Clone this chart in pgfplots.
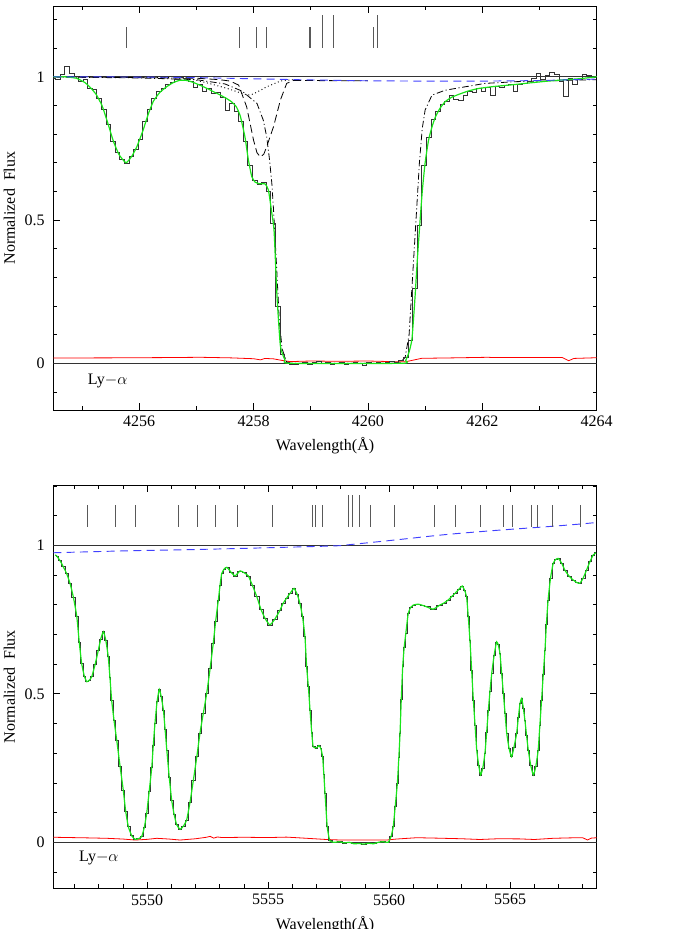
\documentclass[border=0pt]{standalone}
\usepackage{fontspec}
\setmainfont{Liberation Serif}
\usepackage{pgfplots}
\usepackage{pgfplotstable}
\pgfplotsset{compat=1.18}

\definecolor{fitgreen}{rgb}{0.1,0.9,0.1}
\definecolor{contblue}{rgb}{0.25,0.25,1}
\definecolor{tickgray}{rgb}{0.35,0.35,0.35}

% ---------- top panel (4254.5 - 4264) ----------
\pgfplotstableread{
x y
4254.50 0.995
4254.58 0.992
4254.66 1.008
4254.74 1.035
4254.82 1.012
4254.90 1.002
4254.98 0.985
4255.06 0.990
4255.14 0.958
4255.22 0.955
4255.30 0.925
4255.38 0.885
4255.46 0.835
4255.54 0.775
4255.62 0.735
4255.70 0.712
4255.78 0.698
4255.86 0.722
4255.94 0.748
4256.02 0.780
4256.10 0.845
4256.18 0.885
4256.26 0.925
4256.34 0.948
4256.42 0.960
4256.50 0.975
4256.58 0.982
4256.66 0.990
4256.74 0.998
4256.82 0.995
4256.90 0.985
4256.98 0.962
4257.06 0.975
4257.14 0.948
4257.22 0.958
4257.30 0.942
4257.38 0.945
4257.46 0.928
4257.54 0.884
4257.62 0.908
4257.70 0.880
4257.78 0.845
4257.86 0.775
4257.94 0.690
4258.02 0.640
4258.10 0.625
4258.18 0.632
4258.26 0.600
4258.34 0.490
4258.42 0.200
4258.50 0.030
4258.58 0.005
4258.66 -0.005
4258.74 -0.003
4258.82 0.000
4258.90 0.004
4258.98 -0.002
4259.06 0.003
4259.14 0.006
4259.22 -0.001
4259.30 0.002
4259.38 -0.004
4259.46 0.001
4259.54 0.003
4259.62 -0.002
4259.70 0.000
4259.78 0.004
4259.86 -0.001
4259.94 -0.006
4260.02 0.002
4260.10 0.000
4260.18 0.003
4260.26 0.001
4260.34 0.005
4260.42 0.008
4260.50 0.003
4260.58 0.010
4260.66 0.020
4260.74 0.080
4260.82 0.260
4260.90 0.480
4260.98 0.690
4261.06 0.790
4261.14 0.850
4261.22 0.880
4261.30 0.905
4261.38 0.915
4261.46 0.935
4261.54 0.920
4261.62 0.918
4261.70 0.935
4261.78 0.950
4261.86 0.945
4261.94 0.958
4262.02 0.950
4262.10 0.962
4262.18 0.935
4262.26 0.968
4262.34 0.962
4262.42 0.970
4262.50 0.972
4262.58 0.948
4262.66 0.975
4262.74 0.978
4262.82 0.985
4262.90 0.995
4262.98 1.012
4263.06 0.990
4263.14 1.005
4263.22 1.015
4263.30 1.010
4263.38 0.985
4263.46 0.930
4263.54 0.995
4263.62 0.975
4263.70 0.990
4263.78 1.010
4263.86 1.005
4263.94 0.998
4264.00 1.000
}\topdata

\pgfplotstableread{
x y
4254.50 1.000
4254.70 1.000
4254.90 0.995
4255.05 0.980
4255.15 0.962
4255.25 0.938
4255.35 0.900
4255.45 0.840
4255.55 0.775
4255.65 0.728
4255.77 0.700
4255.87 0.722
4255.96 0.756
4256.07 0.814
4256.16 0.870
4256.25 0.915
4256.36 0.945
4256.48 0.965
4256.60 0.980
4256.72 0.988
4256.84 0.987
4256.95 0.980
4257.07 0.970
4257.18 0.960
4257.30 0.948
4257.42 0.936
4257.53 0.924
4257.62 0.912
4257.70 0.895
4257.77 0.862
4257.85 0.790
4257.91 0.710
4257.97 0.651
4258.03 0.632
4258.10 0.627
4258.20 0.626
4258.26 0.605
4258.32 0.524
4258.36 0.460
4258.41 0.235
4258.47 0.060
4258.55 0.012
4258.64 0.000
4260.60 0.000
4260.66 0.010
4260.72 0.040
4260.77 0.085
4260.82 0.220
4260.86 0.350
4260.90 0.465
4260.95 0.600
4261.00 0.700
4261.06 0.779
4261.12 0.825
4261.18 0.860
4261.26 0.890
4261.35 0.913
4261.46 0.928
4261.58 0.938
4261.75 0.950
4261.93 0.959
4262.20 0.966
4262.52 0.972
4262.80 0.978
4263.10 0.984
4263.40 0.989
4263.68 0.993
4263.92 0.998
4264.00 1.000
}\topfit

\pgfplotstableread{
x y
4254.50 1.000
4256.00 0.999
4257.00 0.997
4258.00 0.993
4259.00 0.989
4260.00 0.986
4261.00 0.985
4262.00 0.985
4263.00 0.987
4264.00 0.992
}\topcont

\pgfplotstableread{
x y
4254.50 1.000
4257.00 0.995
4257.40 0.990
4257.59 0.985
4257.74 0.971
4257.88 0.895
4258.00 0.779
4258.06 0.735
4258.12 0.720
4258.18 0.730
4258.23 0.756
4258.35 0.826
4258.47 0.919
4258.58 0.977
4258.70 0.987
4260.00 0.986
}\topdash

\pgfplotstableread{
x y
4256.00 0.998
4256.83 0.996
4257.18 0.979
4257.53 0.960
4257.77 0.944
4257.90 0.936
4258.00 0.940
4258.23 0.965
4258.47 0.985
4258.70 0.990
}\topdot

\pgfplotstableread{
x y
4254.50 0.999
4256.00 0.996
4257.00 0.990
4257.50 0.975
4257.80 0.950
4258.06 0.907
4258.17 0.849
4258.23 0.791
4258.28 0.710
4258.32 0.628
4258.35 0.535
4258.40 0.350
4258.45 0.150
4258.50 0.050
4258.58 0.005
4258.65 0.000
4260.55 0.000
4260.65 0.020
4260.72 0.100
4260.78 0.300
4260.83 0.465
4260.90 0.700
4260.95 0.820
4261.00 0.884
4261.12 0.936
4261.35 0.953
4261.64 0.963
4262.05 0.977
4262.60 0.983
4263.20 0.986
4264.00 0.990
}\topdashdot

\pgfplotstableread{
x y
4254.50 0.0185
4255.50 0.0190
4256.50 0.0200
4257.07 0.0210
4257.60 0.0190
4258.00 0.0160
4258.12 0.0120
4258.20 0.0170
4258.35 0.0155
4258.50 0.0100
4258.64 0.0060
4259.00 0.0080
4259.50 0.0070
4260.00 0.0080
4260.40 0.0060
4260.65 0.0050
4260.94 0.0174
4261.50 0.0190
4262.10 0.0210
4262.20 0.0200
4263.00 0.0200
4263.40 0.0200
4263.51 0.0090
4263.60 0.0170
4264.00 0.0195
}\toperr

% ---------- bottom panel (5546.1 - 5568.6) ----------
\pgfplotstableread{
x y
5546.20 0.968
5546.26 0.964
5546.40 0.948
5546.53 0.928
5546.67 0.905
5546.81 0.872
5546.95 0.825
5547.09 0.760
5547.19 0.675
5547.29 0.603
5547.40 0.560
5547.50 0.541
5547.60 0.545
5547.71 0.558
5547.85 0.600
5547.98 0.647
5548.08 0.685
5548.19 0.709
5548.29 0.680
5548.39 0.625
5548.46 0.555
5548.53 0.479
5548.63 0.410
5548.74 0.344
5548.88 0.255
5549.01 0.176
5549.11 0.105
5549.22 0.053
5549.36 0.022
5549.50 0.010
5549.63 0.012
5549.77 0.019
5549.88 0.050
5549.98 0.098
5550.08 0.170
5550.19 0.254
5550.25 0.325
5550.32 0.400
5550.41 0.475
5550.50 0.515
5550.58 0.490
5550.67 0.445
5550.74 0.380
5550.81 0.311
5550.91 0.220
5551.01 0.143
5551.11 0.095
5551.22 0.059
5551.36 0.044
5551.50 0.055
5551.63 0.075
5551.77 0.135
5551.91 0.210
5552.05 0.288
5552.18 0.367
5552.32 0.435
5552.46 0.502
5552.60 0.585
5552.73 0.670
5552.83 0.745
5552.94 0.816
5553.01 0.865
5553.08 0.905
5553.18 0.920
5553.29 0.926
5553.46 0.910
5553.63 0.897
5553.84 0.914
5554.00 0.908
5554.18 0.897
5554.35 0.865
5554.53 0.827
5554.70 0.785
5554.87 0.754
5555.07 0.732
5555.28 0.752
5555.49 0.782
5555.62 0.805
5555.76 0.822
5555.92 0.840
5556.07 0.855
5556.20 0.835
5556.31 0.805
5556.42 0.760
5556.52 0.692
5556.59 0.591
5556.66 0.525
5556.73 0.445
5556.80 0.370
5556.86 0.322
5557.00 0.318
5557.10 0.326
5557.18 0.315
5557.25 0.288
5557.30 0.230
5557.35 0.165
5557.44 0.053
5557.55 0.005
5557.75 0.000
5557.95 0.002
5558.15 -0.002
5558.35 0.000
5558.55 -0.005
5558.75 -0.004
5558.95 -0.006
5559.15 -0.003
5559.35 -0.005
5559.55 0.000
5559.75 0.002
5559.96 0.000
5560.08 0.020
5560.17 0.053
5560.25 0.120
5560.34 0.199
5560.40 0.285
5560.45 0.367
5560.50 0.480
5560.56 0.591
5560.62 0.655
5560.69 0.704
5560.79 0.771
5560.90 0.792
5561.00 0.799
5561.20 0.802
5561.38 0.798
5561.55 0.793
5561.82 0.785
5562.10 0.799
5562.27 0.806
5562.44 0.816
5562.58 0.827
5562.72 0.838
5562.88 0.852
5563.02 0.863
5563.11 0.850
5563.20 0.827
5563.27 0.760
5563.34 0.680
5563.41 0.580
5563.48 0.479
5563.55 0.395
5563.62 0.311
5563.70 0.260
5563.78 0.227
5563.87 0.250
5563.96 0.300
5564.03 0.370
5564.10 0.445
5564.17 0.510
5564.24 0.569
5564.34 0.630
5564.44 0.675
5564.51 0.665
5564.58 0.636
5564.65 0.570
5564.72 0.502
5564.79 0.435
5564.86 0.367
5564.96 0.315
5565.06 0.288
5565.16 0.320
5565.27 0.367
5565.34 0.420
5565.41 0.468
5565.48 0.485
5565.55 0.450
5565.61 0.412
5565.68 0.360
5565.75 0.311
5565.85 0.260
5565.96 0.227
5566.06 0.255
5566.16 0.311
5566.23 0.395
5566.30 0.479
5566.37 0.565
5566.44 0.647
5566.50 0.735
5566.57 0.816
5566.67 0.890
5566.78 0.939
5566.88 0.952
5566.99 0.956
5567.13 0.940
5567.26 0.917
5567.43 0.897
5567.61 0.883
5567.75 0.875
5567.88 0.872
5568.02 0.890
5568.16 0.917
5568.30 0.945
5568.43 0.967
5568.55 0.975
}\botspec

\pgfplotstableread{
x y
5546.12 0.975
5547.50 0.978
5549.40 0.982
5551.50 0.985
5553.60 0.989
5555.50 0.993
5557.70 0.998
5558.20 1.001
5560.24 1.018
5562.31 1.036
5564.37 1.050
5566.40 1.062
5567.80 1.071
5568.58 1.077
}\botcont

\pgfplotstableread{
x y
5546.12 0.0170
5546.26 0.0168
5547.50 0.0150
5548.33 0.0135
5549.00 0.0110
5549.50 0.0077
5550.00 0.0100
5550.40 0.0135
5550.90 0.0110
5551.36 0.0077
5552.00 0.0120
5552.45 0.0170
5552.60 0.0200
5552.75 0.0140
5552.90 0.0180
5553.10 0.0160
5554.00 0.0170
5555.00 0.0160
5555.76 0.0175
5556.50 0.0140
5557.40 0.0095
5558.00 0.0077
5559.00 0.0080
5559.90 0.0077
5560.30 0.0110
5561.14 0.0155
5562.00 0.0140
5563.00 0.0120
5563.75 0.0095
5564.50 0.0120
5565.40 0.0115
5566.00 0.0095
5566.78 0.0135
5567.50 0.0150
5568.00 0.0155
5568.20 0.0077
5568.35 0.0140
5568.58 0.0155
}\boterr

\pgfplotsset{
  specpanel/.style={
    scale only axis,
    width=407.55pt,
    anchor=north west,
    font=\fontsize{12}{14}\selectfont,
    xlabel={Wavelength(Å)},
    ylabel={Normalized\ \ Flux},
    ytick={0,0.5,1},
    minor ytick={-0.1,0.1,0.2,0.3,0.4,0.6,0.7,0.8,0.9,1.1,1.2},
    /pgf/number format/assume math mode=true,
    /pgf/number format/set thousands separator={},
    scaled ticks=false,
    major tick length=5pt,
    minor tick length=3pt,
    axis line style={line width=0.6pt},
    every tick/.style={black,line width=0.5pt},
    xlabel style={at={(axis description cs:0.5,0)},anchor=center,yshift=-27pt},
    ylabel style={at={(axis description cs:-0.081,0.5)},anchor=center},
    yticklabel style={xshift=-3pt},
    xticklabel style={yshift=-1pt},
  },
  datahist/.style={const plot mark mid,black!80,line width=0.5pt},
  fitline/.style={fitgreen,line width=0.9pt,smooth,tension=0.3},
  errline/.style={red,line width=0.6pt},
  contline/.style={contblue,line width=0.7pt,dash pattern=on 6pt off 4pt,smooth},
  compticks/.style={tickgray,line width=0.6pt,unbounded coords=jump},
}

\begin{document}
\begin{tikzpicture}
% top panel
\begin{axis}[specpanel,
  at={(40pt,-4.5pt)},
  height=303pt,
  xmin=4254.5, xmax=4264,
  ymin=-0.163, ymax=1.247,
  xtick={4256,4258,4260,4262,4264},
  minor xtick={4255,4257,4259,4261,4263},
]
\addplot[black!80,line width=0.5pt] coordinates {(4254.5,1) (4264,1)};
\addplot[black!80,line width=0.5pt] coordinates {(4254.5,0) (4264,0)};
\addplot[errline] table {\toperr};
\addplot[black,line width=0.6pt,dash pattern=on 6pt off 3pt] table {\topdash};
\addplot[black,line width=0.7pt,dotted] table {\topdot};
\addplot[black,line width=0.6pt,dash pattern=on 5pt off 2pt on 0.8pt off 2pt] table {\topdashdot};
\addplot[datahist] table {\topdata};
\addplot[fitline] table {\topfit};
\addplot[contline] table {\topcont};
\addplot[compticks] coordinates {
  (4255.77,1.101) (4255.77,1.174) (4255.77,nan)
  (4257.75,1.101) (4257.75,1.174) (4257.75,nan)
  (4258.05,1.101) (4258.05,1.174) (4258.05,nan)
  (4258.23,1.101) (4258.23,1.174) (4258.23,nan)
  (4258.97,1.101) (4258.97,1.174) (4258.97,nan)
  (4259.00,1.101) (4259.00,1.174) (4259.00,nan)
  (4259.20,1.101) (4259.20,1.215) (4259.20,nan)
  (4259.39,1.101) (4259.39,1.215) (4259.39,nan)
  (4260.10,1.101) (4260.10,1.174) (4260.10,nan)
  (4260.16,1.101) (4260.16,1.215)
};
\node[anchor=center] at (axis cs:4255.45,-0.06) {Ly$-\alpha$};
\end{axis}

% bottom panel
\begin{axis}[specpanel,
  at={(40pt,-364pt)},
  height=302.25pt,
  xmin=5546.12, xmax=5568.58,
  ymin=-0.155, ymax=1.202,
  xtick={5550,5555,5560,5565},
  minor xtick={5547,5548,5549,5551,5552,5553,5554,5556,5557,5558,5559,5561,5562,5563,5564,5566,5567,5568},
]
\addplot[black!80,line width=0.5pt] coordinates {(5546.12,1) (5568.58,1)};
\addplot[black!80,line width=0.5pt] coordinates {(5546.12,0) (5568.58,0)};
\addplot[errline] table {\boterr};
\addplot[datahist] table {\botspec};
\addplot[fitline] table {\botspec};
\addplot[contline] table {\botcont};
\addplot[compticks] coordinates {
  (5547.54,1.063) (5547.54,1.136) (5547.54,nan)
  (5548.67,1.063) (5548.67,1.136) (5548.67,nan)
  (5549.50,1.063) (5549.50,1.136) (5549.50,nan)
  (5551.29,1.063) (5551.29,1.136) (5551.29,nan)
  (5552.09,1.063) (5552.09,1.136) (5552.09,nan)
  (5552.83,1.063) (5552.83,1.136) (5552.83,nan)
  (5553.72,1.063) (5553.72,1.136) (5553.72,nan)
  (5555.17,1.063) (5555.17,1.136) (5555.17,nan)
  (5556.83,1.063) (5556.83,1.136) (5556.83,nan)
  (5556.95,1.063) (5556.95,1.136) (5556.95,nan)
  (5557.24,1.063) (5557.24,1.136) (5557.24,nan)
  (5558.31,1.063) (5558.31,1.169) (5558.31,nan)
  (5558.48,1.063) (5558.48,1.169) (5558.48,nan)
  (5558.76,1.063) (5558.76,1.169) (5558.76,nan)
  (5559.21,1.063) (5559.21,1.136) (5559.21,nan)
  (5560.21,1.063) (5560.21,1.136) (5560.21,nan)
  (5561.86,1.063) (5561.86,1.136) (5561.86,nan)
  (5562.72,1.063) (5562.72,1.136) (5562.72,nan)
  (5563.79,1.063) (5563.79,1.136) (5563.79,nan)
  (5564.73,1.063) (5564.73,1.136) (5564.73,nan)
  (5565.10,1.063) (5565.10,1.136) (5565.10,nan)
  (5565.89,1.063) (5565.89,1.136) (5565.89,nan)
  (5566.14,1.063) (5566.14,1.136) (5566.14,nan)
  (5566.76,1.063) (5566.76,1.136) (5566.76,nan)
  (5567.90,1.063) (5567.90,1.136)
};
\node[anchor=center] at (axis cs:5548.0,-0.053) {Ly$-\alpha$};
\end{axis}
\pgfresetboundingbox
\path[use as bounding box] (0pt,0pt) rectangle (517.5pt,-696.75pt);
\end{tikzpicture}
\end{document}
